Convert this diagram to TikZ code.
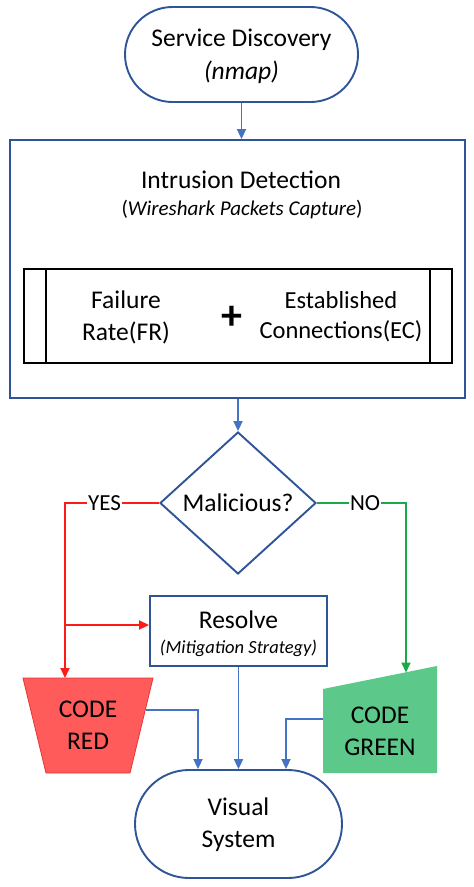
\documentclass[tikz,border=0pt]{standalone}
\usepackage{fontspec}
\setmainfont{Carlito}
\usetikzlibrary{arrows.meta,shapes.geometric,calc}
\definecolor{bord}{HTML}{2F5597}
\definecolor{arr}{HTML}{4472C4}
\definecolor{redline}{HTML}{FF1A1A}
\definecolor{greenline}{HTML}{1AAA4A}
\definecolor{redfill}{HTML}{FF5B5B}
\definecolor{redbord}{HTML}{E53535}
\definecolor{greenfill}{HTML}{5CC98A}
\tikzset{
  big/.style={font=\fontsize{25.5}{32}\selectfont},
  small/.style={font=\fontsize{18.5}{24}\selectfont\itshape},
  mid/.style={font=\fontsize{24.5}{30}\selectfont},
  stadium/.style={draw=bord,line width=1.9pt,fill=white,inner sep=0pt},
  flowarrow/.style={draw=arr,line width=1.9pt,-{Triangle[length=10pt,width=9pt]}},
  redarrow/.style={draw=redline,line width=1.9pt,-{Triangle[length=10pt,width=9pt]}},
  greenarrow/.style={draw=greenline,line width=1.9pt,-{Triangle[length=10pt,width=9pt]}},
  lbl/.style={fill=white,inner sep=1pt,font=\fontsize{23}{26}\selectfont},
}
\begin{document}
\begin{tikzpicture}[x=1pt,y=-1pt]
\useasboundingbox[fill=white] (0,0) rectangle (474,887);

% Service Discovery
\node[stadium,rounded corners=47.5pt,minimum width=233pt,minimum height=95pt] (sd) at (241.5,54.5) {};
\node[big] (sdt) at (241.5,40) {Service Discovery};
\node[big,font=\fontsize{25.5}{32}\selectfont\itshape] (sdn) at (241.5,72) {(nmap)};

% Intrusion detection box
\node[draw=bord,line width=1.9pt,minimum width=455pt,minimum height=258pt,inner sep=0pt] (id) at (237.5,269) {};
\node[big] (idt) at (241,180) {Intrusion Detection};
\node[font=\fontsize{21}{24}\selectfont] (ids) at (242,210) {(\textit{Wireshark Packets Capture})};

% inner box
\node[draw=black,line width=1.9pt,minimum width=428pt,minimum height=94pt,inner sep=0pt] (fec) at (238,316) {};
\draw[line width=1.9pt] ($(fec.north west)+(23,0)$) -- ($(fec.south west)+(23,0)$);
\draw[line width=1.9pt] ($(fec.north east)+(-23,0)$) -- ($(fec.south east)+(-23,0)$);
\node[big,align=center] (fr) at (126,317) {Failure\\Rate(FR)};
\node[font=\fontsize{42}{42}\selectfont\bfseries] (plus) at (232,318) {+};
\node[mid,align=center] (ec) at (341,317) {Established\\Connections(EC)};

% diamond
\node[diamond,draw=bord,line width=1.9pt,minimum width=156pt,minimum height=142pt,inner sep=0pt] (mal) at (238,503) {};
\node[big] (malt) at (238,503) {Malicious?};

% Resolve
\node[draw=bord,line width=1.9pt,minimum width=177pt,minimum height=70pt,inner sep=0pt] (res) at (238.5,631) {};
\node[big] (rest) at (238.5,620) {Resolve};
\node[small] (ress) at (238.5,648) {(Mitigation Strategy)};

% Code red
\fill[redfill,draw=redbord,line width=0.8pt] (23,678) -- (153,678) -- (130,773) -- (46,773) -- cycle;
\coordinate (crtop) at (65,678);
\coordinate (crR) at (145.5,710);
\node[big,align=center] (cr) at (88,725) {CODE\\RED};

% Code green
\fill[greenfill] (323,689) -- (437,666) -- (437,773) -- (323,773) -- cycle;
\coordinate (cgtop) at (406,672.5);
\coordinate (cgL) at (323,719);
\node[big,align=center] (cg) at (380,731) {CODE\\GREEN};

% Visual System
\node[stadium,rounded corners=54pt,minimum width=207pt,minimum height=108pt] (vs) at (238.5,824) {};
\node[big,align=center] (vst) at (238.5,825) {Visual\\System};

% connectors
\draw[flowarrow] (sd.south) -- (sd.south |- id.north);
\draw[flowarrow] (id.south -| mal.north) -- (mal.north);

\coordinate (yc) at (65,503);
\coordinate (yb) at (65,625);
\draw[redarrow] (mal.west) -- node[lbl,pos=0.58] (yes) {YES} (yc) -- (crtop);
\draw[redarrow] (yb) -- (yb -| res.west);

\coordinate (nc) at (406,503);
\draw[greenarrow] (mal.east) -- node[lbl,pos=0.54] (no) {NO} (nc) -- (cgtop);

\draw[flowarrow] (res.south) -- (res.south |- vs.north);
\draw[flowarrow] (crR) -| ($(vs.north)+(-40.5,0)$);
\draw[flowarrow] (cgL) -| ($(vs.north)+(47.5,0)$);
\end{tikzpicture}
\end{document}
